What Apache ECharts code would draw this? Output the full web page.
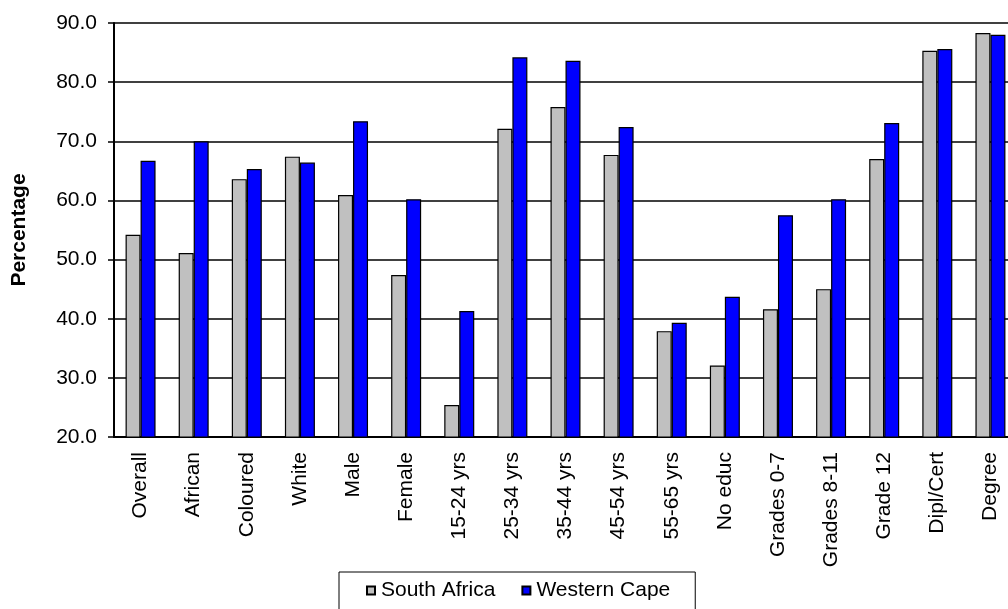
<!DOCTYPE html>
<html>
<head>
<meta charset="utf-8">
<title>Percentage by group: South Africa vs Western Cape</title>
<script src="https://cdn.jsdelivr.net/npm/echarts@6/dist/echarts.min.js"></script>
<style>
  html, body { margin: 0; padding: 0; background: #fff; }
  #chart { width: 1008px; height: 609px; }
</style>
</head>
<body>
<div id="chart"></div>
<script>
// Groups along the horizontal axis
const categories = [
  'Overall', 'African', 'Coloured', 'White', 'Male', 'Female',
  '15-24 yrs', '25-34 yrs', '35-44 yrs', '45-54 yrs', '55-65 yrs',
  'No educ', 'Grades 0-7', 'Grades 8-11', 'Grade 12', 'Dipl/Cert', 'Degree'
];

// Percentages per group
const southAfrica = [54.2, 51.1, 63.6, 67.4, 60.9, 47.4, 25.4, 72.1, 75.8, 67.7, 37.9, 32.1, 41.6, 45.0, 67.0, 85.3, 88.3];
const westernCape = [66.7, 70.0, 65.3, 66.4, 73.4, 60.2, 41.3, 84.2, 83.6, 72.4, 39.3, 43.7, 57.5, 60.2, 73.1, 85.6, 88.0];

// Value axis range
const yMin = 20;
const yMax = 90;
const yStep = 10;

const FONT = '"Liberation Sans", Arial, sans-serif';

const chart = echarts.init(document.getElementById('chart'), null, { renderer: 'canvas' });

chart.setOption({
  animation: false,
  backgroundColor: '#ffffff',
  textStyle: { fontFamily: FONT, color: '#000' },
  grid: {
    left: 114,
    top: 23,
    width: 903,
    height: 414,
    containLabel: false,
    outerBoundsMode: 'none'
  },
  legend: {
    left: 339,
    top: 572,
    orient: 'horizontal',
    padding: [8, 25, 40, 27],
    itemGap: 26,
    itemWidth: 8,
    itemHeight: 8,
    borderColor: '#000',
    borderWidth: 1,
    icon: 'rect',
    textStyle: { fontFamily: FONT, fontSize: 21, color: '#000', padding: [0, 0, 0, 1] },
    data: ['South Africa', 'Western Cape']
  },
  xAxis: {
    type: 'category',
    data: categories,
    axisLine: { show: true, lineStyle: { color: '#000', width: 2 } },
    axisTick: { show: false },
    axisLabel: {
      rotate: 90,
      margin: 15,
      interval: 0,
      fontFamily: FONT,
      fontSize: 21,
      color: '#000'
    },
    splitLine: { show: false }
  },
  yAxis: {
    type: 'value',
    min: yMin,
    max: yMax,
    interval: yStep,
    name: 'Percentage',
    nameLocation: 'middle',
    nameGap: 84,
    nameRotate: 90,
    nameTextStyle: { fontFamily: FONT, fontSize: 21, fontWeight: 'bold', color: '#000' },
    axisLine: { show: true, lineStyle: { color: '#000', width: 2 } },
    axisTick: { show: true, inside: false, length: 6, lineStyle: { color: '#000', width: 1.5 } },
    axisLabel: {
      margin: 17,
      fontFamily: FONT,
      fontSize: 21,
      color: '#000',
      formatter: v => v.toFixed(1)
    },
    splitLine: { show: true, lineStyle: { color: '#000', width: 1.5 } }
  },
  series: [
    {
      name: 'South Africa',
      type: 'bar',
      data: southAfrica,
      barWidth: 15,
      barGap: '0%',
      itemStyle: { color: '#c0c0c0', borderColor: '#000', borderWidth: 1.2 }
    },
    {
      name: 'Western Cape',
      type: 'bar',
      data: westernCape,
      barWidth: 15,
      barGap: '0%',
      itemStyle: { color: '#0000ff', borderColor: '#000', borderWidth: 1.2 }
    }
  ]
});
</script>
</body>
</html>
